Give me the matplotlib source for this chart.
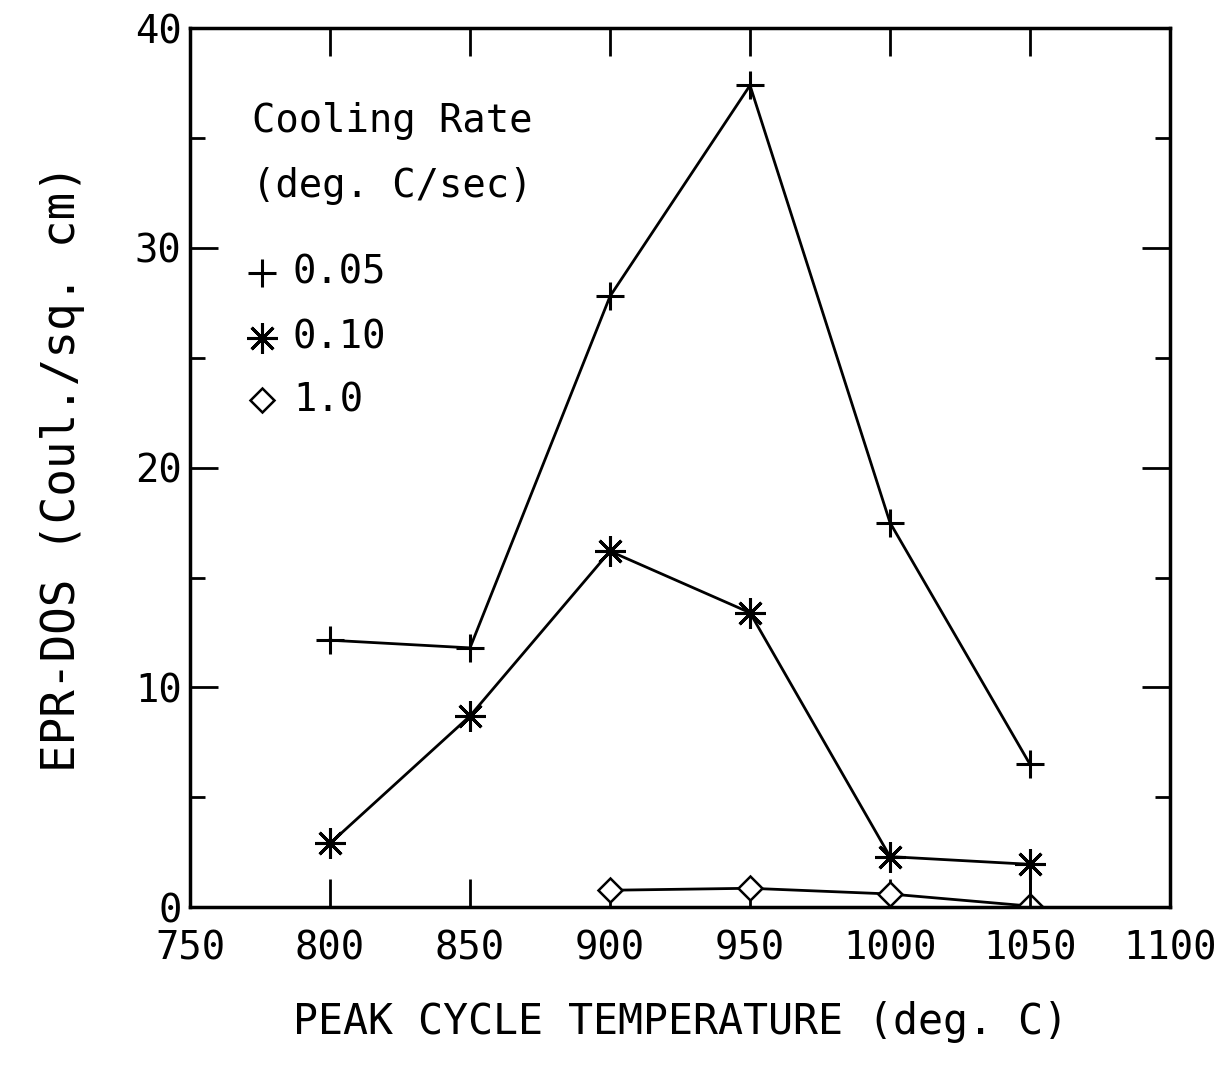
import matplotlib.pyplot as plt
from matplotlib.ticker import MultipleLocator

temps = [800, 850, 900, 950, 1000, 1050]
epr_005 = [12.15, 11.8, 27.8, 37.4, 17.5, 6.5]
epr_010 = [2.9, 8.7, 16.2, 13.4, 2.3, 1.95]
temps_10 = [900, 950, 1000, 1050]
epr_10 = [0.77, 0.86, 0.6, 0.05]

plt.rcParams['font.family'] = 'DejaVu Sans Mono'

fig = plt.figure(figsize=(12.18, 10.66), dpi=100)
ax = fig.add_axes([0.156, 0.149, 0.8046, 0.8245])

ast = (8, 2, 0)
ax.plot(temps, epr_005, '-', color='black', lw=2, marker='+', ms=20, mew=2.2)
ax.plot(temps, epr_010, '-', color='black', lw=2, marker=ast, ms=22, mew=2.2)
ax.plot(temps_10, epr_10, '-', color='black', lw=2, marker='D', ms=12,
        mfc='white', mew=1.8)
# vertical bar joining the last two points at 1050
ax.vlines(temps[-1], epr_10[-1], epr_010[-1], color='black', lw=2)

ax.set_xlim(750, 1100)
ax.set_ylim(0, 40)
ax.xaxis.set_major_locator(MultipleLocator(50))
ax.yaxis.set_major_locator(MultipleLocator(10))
ax.yaxis.set_minor_locator(MultipleLocator(5))
ax.tick_params(which='both', direction='in', top=True, right=True,
               labelsize=28, width=2)
ax.tick_params(which='major', length=20)
ax.tick_params(which='minor', length=11)
ax.tick_params(axis='x', pad=16)
ax.tick_params(axis='y', pad=6)
for s in ax.spines.values():
    s.set_linewidth(2.5)

ax.set_xlabel('PEAK CYCLE TEMPERATURE (deg. C)', fontsize=30, labelpad=24)
ax.set_ylabel('EPR-DOS (Coul./sq. cm)', fontsize=33, labelpad=36)

# hand-drawn legend
tr = ax.transAxes
ax.text(0.063, 0.895, 'Cooling Rate', transform=tr, fontsize=28, va='center')
ax.text(0.063, 0.821, '(deg. C/sec)', transform=tr, fontsize=28, va='center')
ax.plot([0.0735], [0.722], transform=tr, marker='+', ms=20, mew=2.2, color='black')
ax.text(0.105, 0.722, '0.05', transform=tr, fontsize=28, va='center')
ax.plot([0.0735], [0.648], transform=tr, marker=ast, ms=22, mew=2.2, color='black')
ax.text(0.105, 0.648, '0.10', transform=tr, fontsize=28, va='center')
ax.plot([0.0735], [0.577], transform=tr, marker='D', ms=12, mew=1.8,
        mfc='white', color='black')
ax.text(0.105, 0.577, '1.0', transform=tr, fontsize=28, va='center')

fig.savefig('out.png', dpi=100)
